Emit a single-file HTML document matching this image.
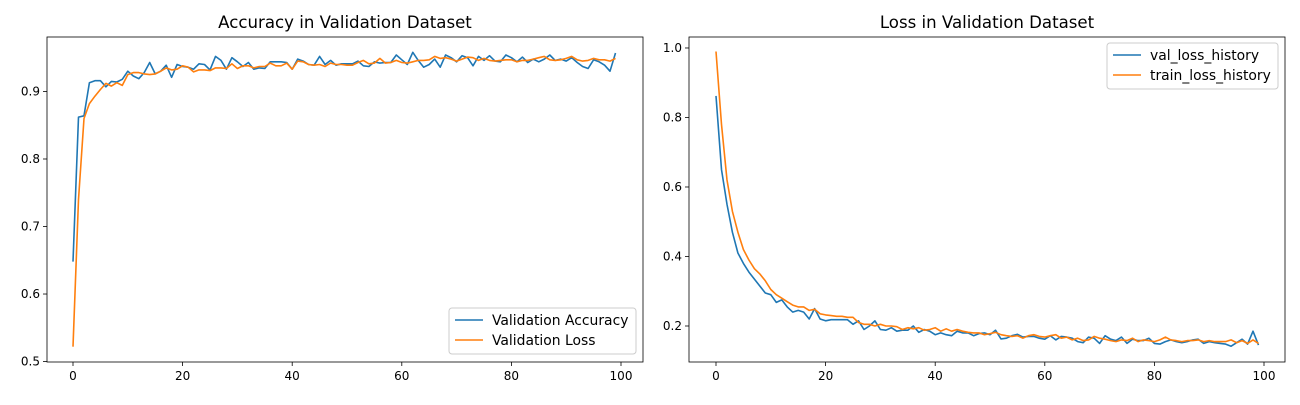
<!DOCTYPE html>
<html><head><meta charset="utf-8"><style>
body{margin:0;background:#fff;}
svg{font-family:"DejaVu Sans","Liberation Sans",sans-serif;}
</style></head><body>
<svg id="c" width="1300" height="400"></svg>
<script>
const epochs = Array.from({length:100},(_,i)=>i);
const valAcc = [0.648,0.862,0.864,0.913,0.916,0.916,0.907,0.915,0.914,0.918,0.930,0.923,0.919,0.928,0.943,0.926,0.930,0.939,0.921,0.940,
0.937,0.936,0.933,0.941,0.940,0.932,0.952,0.946,0.933,0.950,0.944,0.937,0.943,0.933,0.935,0.934,0.944,0.944,0.944,0.943,
0.933,0.948,0.945,0.940,0.939,0.952,0.940,0.946,0.939,0.941,0.941,0.941,0.945,0.938,0.937,0.944,0.942,0.943,0.943,0.954,
0.947,0.940,0.958,0.946,0.936,0.940,0.948,0.936,0.954,0.950,0.944,0.953,0.950,0.938,0.952,0.946,0.953,0.945,0.944,0.954,
0.950,0.944,0.951,0.943,0.948,0.944,0.948,0.954,0.946,0.948,0.945,0.950,0.943,0.937,0.934,0.947,0.944,0.939,0.930,0.957];
const trainAcc = [0.522,0.740,0.860,0.882,0.893,0.903,0.912,0.908,0.913,0.909,0.925,0.928,0.928,0.926,0.925,0.926,0.930,0.935,0.932,0.933,
0.938,0.936,0.929,0.932,0.932,0.931,0.935,0.935,0.934,0.941,0.934,0.938,0.938,0.935,0.937,0.937,0.942,0.938,0.938,0.942,
0.933,0.945,0.944,0.940,0.939,0.940,0.937,0.942,0.940,0.940,0.939,0.939,0.943,0.946,0.941,0.942,0.949,0.942,0.943,0.946,
0.943,0.942,0.944,0.946,0.946,0.947,0.952,0.949,0.950,0.948,0.945,0.948,0.951,0.950,0.946,0.949,0.946,0.945,0.946,0.947,
0.947,0.944,0.946,0.946,0.948,0.950,0.952,0.947,0.946,0.947,0.949,0.952,0.947,0.945,0.946,0.949,0.947,0.947,0.945,0.949];
const valLoss = [0.862,0.650,0.550,0.470,0.410,0.380,0.355,0.335,0.315,0.295,0.290,0.268,0.275,0.255,0.240,0.245,0.240,0.220,0.250,0.220,
0.215,0.218,0.218,0.218,0.218,0.205,0.215,0.190,0.200,0.215,0.190,0.188,0.195,0.185,0.188,0.188,0.200,0.182,0.190,0.185,
0.175,0.180,0.175,0.172,0.185,0.180,0.180,0.172,0.178,0.180,0.175,0.188,0.163,0.165,0.172,0.176,0.168,0.170,0.170,0.165,
0.162,0.172,0.160,0.170,0.168,0.165,0.155,0.152,0.168,0.165,0.150,0.172,0.162,0.158,0.168,0.150,0.162,0.158,0.158,0.165,
0.150,0.148,0.155,0.160,0.155,0.152,0.155,0.160,0.162,0.150,0.155,0.152,0.150,0.148,0.142,0.152,0.162,0.148,0.185,0.145];
const trainLoss = [0.990,0.780,0.620,0.530,0.470,0.420,0.390,0.365,0.350,0.330,0.305,0.290,0.280,0.270,0.260,0.255,0.255,0.245,0.248,0.235,
0.232,0.230,0.228,0.228,0.225,0.225,0.210,0.205,0.205,0.200,0.205,0.200,0.200,0.198,0.190,0.195,0.192,0.195,0.188,0.190,
0.195,0.185,0.192,0.185,0.190,0.185,0.182,0.180,0.180,0.175,0.178,0.182,0.175,0.172,0.170,0.172,0.165,0.172,0.175,0.170,
0.168,0.172,0.175,0.165,0.168,0.160,0.165,0.158,0.160,0.170,0.165,0.162,0.158,0.155,0.160,0.158,0.165,0.155,0.160,0.158,
0.155,0.160,0.168,0.160,0.158,0.155,0.158,0.158,0.160,0.155,0.158,0.155,0.155,0.155,0.160,0.152,0.158,0.150,0.160,0.150];
const accTicks = [0.5,0.6,0.7,0.8,0.9];
const lossTicks = [0.2,0.4,0.6,0.8,1.0];
const xTicks = [0,20,40,60,80,100];

const NS="http://www.w3.org/2000/svg";
const svg=document.getElementById('c');
function mk(tag,attrs,parent){const e=document.createElementNS(NS,tag);for(const k in attrs)e.setAttribute(k,attrs[k]);(parent||svg).appendChild(e);return e;}

function panel(cfg){
  const g=mk('g',{});
  
  
  const {x0,x1,y0,y1,vmin,vmax}=cfg;
  const sx=v=>cfg.px0+(v-0)*(cfg.px100-cfg.px0)/100;
  const sy=v=>y1-(v-vmin)/(vmax-vmin)*(y1-y0);
  xTicks.forEach(t=>{
    const x=sx(t);
    const l=mk('line',{x1:x,x2:x,y1:y1,y2:y1+4,stroke:'#000','stroke-width':0.8},g);
    
    
    const tx=mk('text',{x:x,y:y1+18,'text-anchor':'middle','font-size':12},g);
    tx.textContent=t;
    
    
  });
  cfg.yt.forEach(t=>{
    const y=sy(t);
    const l=mk('line',{x1:x0-4,x2:x0,y1:y,y2:y,stroke:'#000','stroke-width':0.8},g);
    
    
    const tx=mk('text',{x:x0-7,y:y+4,'text-anchor':'end','font-size':12},g);
    tx.textContent=t.toFixed(1);
    
    
  });
  cfg.series.forEach(s=>{
    const pts=s.data.map((v,i)=>sx(epochs[i]).toFixed(1)+','+sy(v).toFixed(1)).join(' ');
    const p=mk('polyline',{points:pts,fill:'none',stroke:s.color,'stroke-width':1.6,'stroke-linejoin':'round'},g);
    
    
  });
  const fr=mk('rect',{x:x0,y:y0,width:x1-x0,height:y1-y0,fill:'none',stroke:'#000','stroke-width':0.8},g);
  
  
  const ti=mk('text',{x:(x0+x1)/2,y:y0-9,'text-anchor':'middle','font-size':16.6},g);
  ti.textContent=cfg.title;
  
  
  const L=cfg.legend;
  const lg=mk('g',{},g);
  
  
  mk('rect',{x:L.x,y:L.y,width:L.w,height:46,rx:3,fill:'#fff','fill-opacity':0.85,stroke:'#ccc'},lg);
  cfg.series.forEach((s,i)=>{
    const yy=L.y+12+i*20;
    mk('line',{x1:L.x+6,x2:L.x+34,y1:yy,y2:yy,stroke:s.color,'stroke-width':1.6},lg);
    const t=mk('text',{x:L.x+43,y:yy+5,'font-size':13.9},lg);
    t.textContent=s.label;
    
    
  });
}
panel({name:'accuracy-chart',x0:47,x1:643,y0:37,y1:362,vmin:0.4993,vmax:0.9807,px0:73,px100:621,yt:accTicks,
  title:'Accuracy in Validation Dataset',
  series:[{key:'val-accuracy-line',data:valAcc,color:'#1f77b4',label:'Validation Accuracy'},
          {key:'val-loss-line',data:trainAcc,color:'#ff7f0e',label:'Validation Loss'}],
  legend:{x:449,y:308,w:187}});
panel({name:'loss-chart',x0:689,x1:1285,y0:37,y1:362,vmin:0.0964,vmax:1.0316,px0:716,px100:1264,yt:lossTicks,
  title:'Loss in Validation Dataset',
  series:[{key:'val-loss-history-line',data:valLoss,color:'#1f77b4',label:'val_loss_history'},
          {key:'train-loss-history-line',data:trainLoss,color:'#ff7f0e',label:'train_loss_history'}],
  legend:{x:1107,y:43,w:171}});
</script>
</body></html>
